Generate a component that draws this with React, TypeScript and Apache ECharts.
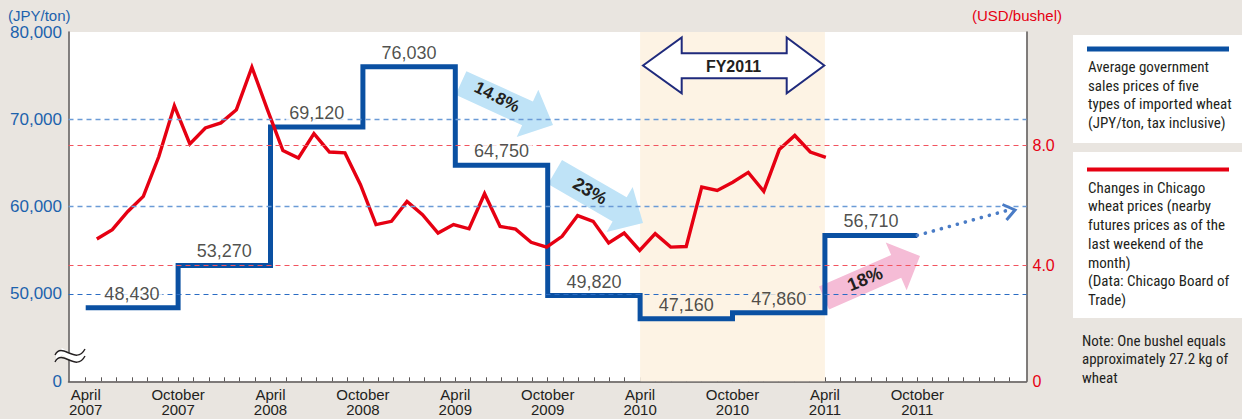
import React, { useEffect, useRef } from 'react';
import * as echarts from 'echarts';

// ---------- data ----------
// x positions are months counted from April 2007
const xTickMonths = [0, 6, 12, 18, 24, 30, 36, 42, 48, 54];
const xTickLabels = [
  'April\n2007', 'October\n2007', 'April\n2008', 'October\n2008', 'April\n2009',
  'October\n2009', 'April\n2010', 'October\n2010', 'April\n2011', 'October\n2011',
];
const monthTicks = [
  0, 1, 2, 3, 4, 5, 6, 7, 8, 9, 10, 11, 12, 13, 14, 15, 16, 17, 18, 19, 20, 21, 22, 23, 24, 25, 26, 27, 28, 29, 30,
  31, 32, 33, 34, 35, 36, 37, 38, 39, 40, 41, 42, 43, 44, 45, 46, 47, 48, 49, 50, 51, 52, 53, 54, 55, 56, 57, 58, 59, 60,
];

// Average government sales prices (JPY/ton), each holding for six months
const stepMonths = [0, 6, 12, 18, 24, 30, 36, 42, 48, 54];
const govPrices = [48430, 53270, 69120, 76030, 64750, 49820, 47160, 47860, 56710];

// Chicago wheat prices (USD/bushel), monthly from April 2007 to March 2011
const wheatPrices = [
  4.89, 5.2, 5.81, 6.31, 7.64, 9.33, 8.06, 8.59, 8.76, 9.2, 10.62, 9.2,
  7.84, 7.59, 8.4, 7.79, 7.76, 6.7, 5.37, 5.48, 6.14, 5.7, 5.09, 5.37,
  5.23, 6.4, 5.31, 5.22, 4.78, 4.62, 4.98, 5.67, 5.48, 4.76, 5.09, 4.51,
  5.07, 4.62, 4.64, 6.62, 6.51, 6.78, 7.11, 6.48, 7.87, 8.34, 7.79, 7.61,
];
const wheatStart = 0.72; // last weekend of the month
const wheatStep = 1.0072;

const leftTicks = [40000, 50000, 60000, 70000, 80000];
const leftTickLabels = ['0', '50,000', '60,000', '70,000', '80,000'];
const RIGHT_MIN = 0.147;
const RIGHT_MAX = 11.79;
const rightTicks = [RIGHT_MIN, 4, 8];
const rightTickLabels = ['0', '4.0', '8.0'];

const fyRange = [36, 48];
const projection = [[54, 56710], [60, 59650]];

const X_MIN = -1.117;
const X_MAX = 61.09;

// ---------- styles ----------
const BG = '#e9e5e0';
const BEIGE = '#fdf3e4';
const BLUE = '#0a50a2';
const RED = '#e60012';
const DARK = '#231f20';
const AXIS = '#5a5656';
const FONT = "'Liberation Sans', Arial, Helvetica, sans-serif";
const NARROW = "'Liberation Sans Narrow', 'Arial Narrow', 'Roboto Condensed', 'Liberation Sans', sans-serif";

function lookup(values: number[], labels: string[], v: number) {
  for (let i = 0; i < values.length; i++) if (Math.abs(values[i] - v) < 1e-6) return labels[i];
  return '';
}

function arrowPoints(tx: number, ty: number, hx: number, hy: number, bw: number, hw: number, hl: number) {
  const len = Math.hypot(hx - tx, hy - ty);
  const dx = (hx - tx) / len, dy = (hy - ty) / len;
  const nx = -dy, ny = dx;
  const bx = hx - dx * hl, by = hy - dy * hl;
  return [
    [tx + nx * bw, ty + ny * bw],
    [bx + nx * bw, by + ny * bw],
    [bx + nx * hw, by + ny * hw],
    [hx, hy],
    [bx - nx * hw, by - ny * hw],
    [bx - nx * bw, by - ny * bw],
    [tx - nx * bw, ty - ny * bw],
  ];
}

export default function App() {
  const ref = useRef<HTMLDivElement>(null);
  useEffect(() => {
    const chart = echarts.init(ref.current!, undefined, { renderer: 'svg' });

    const stepData = govPrices.map((v, i) => [stepMonths[i], v]);
    stepData.push([stepMonths[stepMonths.length - 1], govPrices[govPrices.length - 1]]);
    const labelData = govPrices.map((v, i) => {
      const mid = (stepMonths[i] + stepMonths[i + 1]) / 2;
      const inFy = mid > fyRange[0] && mid < fyRange[1];
      return { value: [mid, v], label: { backgroundColor: inFy ? BEIGE : '#ffffff' } };
    });
    const wheatData = wheatPrices.map((v, i) => [wheatStart + i * wheatStep, v]);

    const arrow148 = arrowPoints(461, 83, 553, 125, 13, 26, 28);
    const arrow23 = arrowPoints(555, 172, 643, 223, 14, 26, 27);
    const arrow18 = arrowPoints(824, 298, 920, 256, 12.5, 26, 26);

    const legendText1 = 'Average government\nsales prices of five\ntypes of imported wheat\n(JPY/ton, tax inclusive)';
    const legendText2 =
      'Changes in Chicago\nwheat prices (nearby\nfutures prices as of the\nlast weekend of the\nmonth)\n(Data: Chicago Board of\nTrade)';
    const noteText = 'Note: One bushel equals\napproximately 27.2 kg of\nwheat';

    const option: any = {
      animation: false,
      backgroundColor: BG,
      textStyle: { fontFamily: FONT },
      grid: {
        left: 68.5, right: 215.5, top: 32, bottom: 37.7,
        show: true, backgroundColor: '#ffffff', borderWidth: 0, containLabel: false,
      },
      xAxis: {
        type: 'value', min: X_MIN, max: X_MAX,
        axisLine: { show: true, onZero: false, lineStyle: { color: AXIS, width: 1.5 } },
        axisTick: { show: true, inside: true, length: 4, customValues: monthTicks, lineStyle: { color: AXIS, width: 1 } },
        axisLabel: {
          show: true, customValues: xTickMonths, margin: 6,
          formatter: (v: number) => lookup(xTickMonths, xTickLabels, v),
          color: DARK, fontSize: 15, lineHeight: 15, fontFamily: FONT,
        },
        splitLine: { show: false },
      },
      yAxis: [
        {
          type: 'value', min: 40000, max: 80000, interval: 10000, position: 'left',
          axisLine: { show: true, onZero: false, lineStyle: { color: AXIS, width: 1.5 } },
          axisTick: { show: false },
          axisLabel: {
            margin: 6.5, color: '#1c62ad', fontSize: 17, fontFamily: FONT,
            formatter: (v: number) => lookup(leftTicks, leftTickLabels, v),
          },
          splitLine: { show: false },
        },
        {
          type: 'value', min: RIGHT_MIN, max: RIGHT_MAX, position: 'right',
          axisLine: { show: true, onZero: false, lineStyle: { color: AXIS, width: 1.5 } },
          axisTick: { show: false },
          axisLabel: {
            customValues: rightTicks, margin: 6, color: RED, fontSize: 16, fontFamily: FONT,
            formatter: (v: number) => lookup(rightTicks, rightTickLabels, v),
          },
          splitLine: { show: false },
        },
      ],
      series: [
        {
          type: 'line', data: [], z: 1, silent: true,
          markArea: { silent: true, itemStyle: { color: BEIGE }, data: [[{ xAxis: fyRange[0] }, { xAxis: fyRange[1] }]] },
        },
        {
          type: 'line', data: [], z: 1, yAxisIndex: 0, silent: true,
          markLine: {
            silent: true, symbol: ['none', 'none'], label: { show: false },
            data: [
              { yAxis: 50000, lineStyle: { color: '#2a6cc4', width: 1.2, type: [5, 4] } },
              { yAxis: 60000, lineStyle: { color: '#6b9bd6', width: 1.4, type: [5, 4] } },
              { yAxis: 70000, lineStyle: { color: '#6b9bd6', width: 1.4, type: [5, 4] } },
            ],
          },
        },
        {
          type: 'line', data: [], z: 1, yAxisIndex: 1, silent: true,
          markLine: {
            silent: true, symbol: ['none', 'none'], label: { show: false },
            lineStyle: { color: '#f2545f', width: 1.2, type: [5, 4] },
            data: [{ yAxis: 4 }, { yAxis: 8 }],
          },
        },
        {
          type: 'line', step: 'end', data: stepData, yAxisIndex: 0, z: 3,
          symbol: 'none', lineStyle: { color: BLUE, width: 5, join: 'miter', cap: 'butt' },
        },
        {
          type: 'line', data: projection, yAxisIndex: 0, z: 3, symbol: 'none',
          lineStyle: { color: '#4a7cc6', width: 3.6, type: [0.1, 8.2], cap: 'round' },
        },
        {
          type: 'line', data: wheatData, yAxisIndex: 1, z: 4, symbol: 'none',
          lineStyle: { color: RED, width: 3.4, join: 'miter' },
        },
        {
          type: 'scatter', data: labelData, yAxisIndex: 0, z: 5, symbolSize: 0,
          label: {
            show: true, position: 'top', distance: 5, color: DARK, fontSize: 18, fontFamily: FONT,
            padding: [0, 3], formatter: (p: any) => p.value[1].toLocaleString('en-US'),
          },
        },
      ],
      graphic: {
        elements: [
          // percentage arrows
          { type: 'polygon', z: 2, shape: { points: arrow148 }, style: { fill: '#bfe3f7' } },
          { type: 'polygon', z: 2, shape: { points: arrow23 }, style: { fill: '#bfe3f7' } },
          { type: 'polygon', z: 2, shape: { points: arrow18 }, style: { fill: '#f5bcd6' } },
          {
            type: 'text', z: 2.5, x: 497, y: 97, rotation: -0.47,
            style: { text: '14.8%', fontSize: 17, fontWeight: 'bold', fill: DARK, fontFamily: FONT, align: 'center', verticalAlign: 'middle' },
          },
          {
            type: 'text', z: 2.5, x: 590, y: 191, rotation: -0.52,
            style: { text: '23%', fontSize: 18, fontWeight: 'bold', fill: DARK, fontFamily: FONT, align: 'center', verticalAlign: 'middle' },
          },
          {
            type: 'text', z: 2.5, x: 865, y: 279, rotation: 0.39,
            style: { text: '18%', fontSize: 18, fontWeight: 'bold', fill: DARK, fontFamily: FONT, align: 'center', verticalAlign: 'middle' },
          },
          // chevron at end of dotted projection
          {
            type: 'polyline', z: 6,
            shape: { points: [[1002.5, 204.5], [1015, 210], [1006.5, 220]] },
            style: { stroke: '#4a7cc6', lineWidth: 3, fill: 'none', lineJoin: 'miter' },
          },
          // FY2011 double arrow
          {
            type: 'polygon', z: 6,
            shape: {
              points: [
                [643, 65.5], [681.7, 37.5], [681.7, 53.3], [786.7, 53.3], [786.7, 37.5], [824.3, 65.5],
                [786.7, 93.3], [786.7, 78.3], [681.7, 78.3], [681.7, 93.3],
              ],
            },
            style: { fill: '#ffffff', stroke: '#1f2a7c', lineWidth: 2 },
          },
          {
            type: 'text', z: 7, x: 733.5, y: 66.5,
            style: { text: 'FY2011', fontSize: 16, fontWeight: 'bold', fill: DARK, fontFamily: FONT, align: 'center', verticalAlign: 'middle' },
          },
          // axis break mark
          {
            type: 'polygon', z: 8,
            shape: { points: [[56, 355], [62, 348], [75, 356], [84, 349], [84, 356], [75, 363], [62, 355], [56, 362]] },
            style: { fill: '#ffffff' },
          },
          {
            type: 'bezierCurve', z: 9,
            shape: { x1: 55, y1: 355, cpx1: 62, cpy1: 341, cpx2: 76, cpy2: 366, x2: 85, y2: 349 },
            style: { stroke: DARK, lineWidth: 1.4, fill: 'none' },
          },
          {
            type: 'bezierCurve', z: 9,
            shape: { x1: 55, y1: 362, cpx1: 62, cpy1: 348, cpx2: 76, cpy2: 373, x2: 85, y2: 356 },
            style: { stroke: DARK, lineWidth: 1.4, fill: 'none' },
          },
          // axis unit titles
          {
            type: 'text', z: 9, x: 8, y: 15,
            style: { text: '(JPY/ton)', fontSize: 15, fill: '#1c62ad', fontFamily: FONT, align: 'left', verticalAlign: 'middle' },
          },
          {
            type: 'text', z: 9, x: 1062, y: 15,
            style: { text: '(USD/bushel)', fontSize: 15, fill: RED, fontFamily: FONT, align: 'right', verticalAlign: 'middle' },
          },
          // legend boxes
          { type: 'rect', z: 9, shape: { x: 1073, y: 35, width: 169, height: 108 }, style: { fill: '#ffffff' } },
          { type: 'line', z: 10, shape: { x1: 1087, y1: 49, x2: 1229, y2: 49 }, style: { stroke: BLUE, lineWidth: 5 } },
          {
            type: 'text', z: 10, x: 1088, y: 57.5,
            style: { text: legendText1, fontSize: 15, lineHeight: 18.7, fill: DARK, fontFamily: NARROW, align: 'left', verticalAlign: 'top' },
          },
          { type: 'rect', z: 9, shape: { x: 1073, y: 152, width: 169, height: 166 }, style: { fill: '#ffffff' } },
          { type: 'line', z: 10, shape: { x1: 1087, y1: 169.5, x2: 1229, y2: 169.5 }, style: { stroke: RED, lineWidth: 4 } },
          {
            type: 'text', z: 10, x: 1088, y: 178.4,
            style: { text: legendText2, fontSize: 15, lineHeight: 18.7, fill: DARK, fontFamily: NARROW, align: 'left', verticalAlign: 'top' },
          },
          {
            type: 'text', z: 10, x: 1082, y: 331.5,
            style: { text: noteText, fontSize: 15, lineHeight: 18.5, fill: DARK, fontFamily: NARROW, align: 'left', verticalAlign: 'top' },
          },
        ],
      },
    };

    chart.setOption(option);
    return () => chart.dispose();
  }, []);

  return <div ref={ref} style={{ position: 'absolute', left: 0, top: 0, width: 1242, height: 419 }} />;
}
